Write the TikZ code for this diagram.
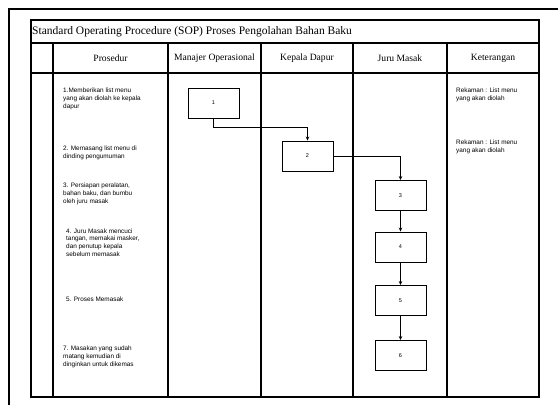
\documentclass[tikz,border=0pt]{standalone}
\usepackage{fontspec}
\setmainfont{Liberation Serif}
\setsansfont{Liberation Sans}
\usetikzlibrary{positioning,arrows.meta}

\begin{document}
\begin{tikzpicture}[x=1pt,y=-1pt,
            stepnode/.style={rectangle, draw=black, fill=white, line width=0.9pt, minimum width=51pt, minimum height=30pt, font=\sffamily\fontsize{5.5}{6}\selectfont},
            headnode/.style={font=\fontsize{9.6}{11}\selectfont},
            textnode/.style={anchor=west, align=left, inner sep=0pt, font=\sffamily\fontsize{6.4}{7.8}\selectfont},
            tabline/.style={line width=1.1pt},
            flow/.style={line width=0.8pt, -{Stealth[length=4pt,width=3.5pt]}},
        ]
        \useasboundingbox (0,0) rectangle (558,405);
        \draw[line width=2pt] (9,405) -- (9,9) -- (558,9);

        \draw[tabline] (31,20) rectangle (539,397);
        \draw[tabline] (31,43) -- (539,43);
        \draw[tabline] (31,73) -- (539,73);
        \draw[tabline] (53,43) -- (53,397);
        \draw[tabline] (168,43) -- (168,397);
        \draw[tabline] (261,43) -- (261,397);
        \draw[tabline] (353,43) -- (353,397);
        \draw[tabline] (447,43) -- (447,397);

        \node (judul) [anchor=west, inner sep=0pt, font=\fontsize{11.5}{13}\selectfont] at (32,31.5) {Standard Operating Procedure (SOP) Proses Pengolahan Bahan Baku};

        \node[headnode] (hprosedur) at (110.5,58) {Prosedur};
        \node[headnode] (hmanajer) at (214.5,58) {Manajer Operasional};
        \node[headnode] (hkepala) at (307,58) {Kepala Dapur};
        \node[headnode] (hjuru) at (400,58) {Juru Masak};
        \node[headnode] (hket) at (493,58) {Keterangan};

        \node[textnode] (p1) at (63,99) {1.Memberikan list menu\\yang akan diolah ke kepala\\dapur};
        \node[textnode] (p2) at (63,153) {2. Memasang list menu di\\dinding pengumuman};
        \node[textnode] (p3) at (63,194) {3. Persiapan peralatan,\\bahan baku, dan bumbu\\oleh juru masak};
        \node[textnode] (p4) at (66,242.5) {4. Juru Masak mencuci\\tangan, memakai masker,\\dan penutup kepala\\sebelum memasak};
        \node[textnode] (p5) at (66,299) {5. Proses Memasak};
        \node[textnode] (p7) at (63,357) {7. Masakan yang sudah\\matang kemudian di\\dinginkan untuk dikemas};

        \node[textnode] (k1) at (456,95) {Rekaman : List menu\\yang akan diolah};
        \node[textnode] (k2) at (456,147) {Rekaman : List menu\\yang akan diolah};

        \node[stepnode] (s1) at (213.5,103) {1};
        \node[stepnode] (s2) at (307.5,156) {2};
        \node[stepnode] (s3) at (400.5,195.5) {3};
        \node[stepnode] (s4) at (400.5,247) {4};
        \node[stepnode] (s5) at (400.5,300.5) {5};
        \node[stepnode] (s6) at (400.5,355.5) {6};

        \draw[flow] (s1.south) -- ++(0,9) -| (s2.north);
        \draw[flow] (s2.east) -| (s3.north);
        \draw[flow] (s3) -- (s4);
        \draw[flow] (s4) -- (s5);
        \draw[flow] (s5) -- (s6);
    \end{tikzpicture}
\end{document}
